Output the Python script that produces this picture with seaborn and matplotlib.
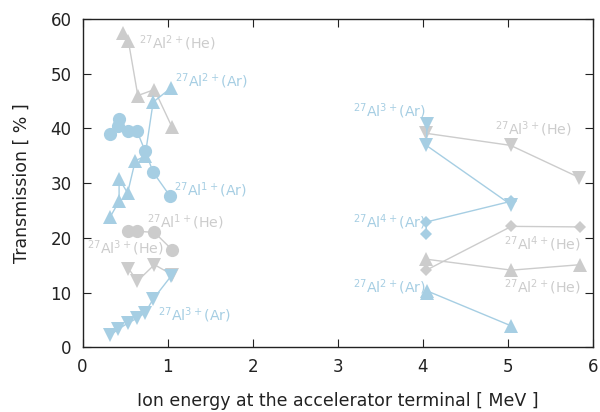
import matplotlib
matplotlib.use("Agg")
import matplotlib.pyplot as plt
import seaborn as sns

# --- data ---
# Argon stripper, low energy
ar1_x = [0.325, 0.43, 0.42, 0.53, 0.64, 0.735, 0.83, 1.03]
ar1_y = [38.9, 41.8, 40.5, 39.5, 39.5, 35.9, 32.0, 27.6]
ar2_x = [0.325, 0.43, 0.43, 0.53, 0.62, 0.735, 0.83, 1.04]
ar2_y = [23.8, 26.7, 30.8, 28.2, 34.1, 34.9, 44.8, 47.4]
ar3_x = [0.325, 0.42, 0.53, 0.64, 0.735, 0.83, 1.04]
ar3_y = [2.2, 3.3, 4.4, 5.3, 6.3, 8.8, 13.0]

# Helium stripper, low energy
he1_x = [0.54, 0.645, 0.845, 1.055]
he1_y = [21.2, 21.2, 21.0, 17.8]
he2_x = [0.48, 0.54, 0.65, 0.845, 1.05]
he2_y = [57.4, 55.9, 46.0, 47.1, 40.3]
he3_x = [0.54, 0.645, 0.845, 1.05]
he3_y = [14.4, 12.1, 15.1, 13.3]

# high energy
ar3h_x = [4.05, 4.04, 5.04]
ar3h_y = [40.8, 36.9, 26.0]
ar4h_x = [4.04, 4.04, 5.04]
ar4h_y = [20.7, 22.9, 26.7]
ar2h_x = [4.05, 4.05, 5.04]
ar2h_y = [10.0, 10.3, 3.9]
he3h_x = [4.04, 5.03, 5.84]
he3h_y = [39.1, 36.9, 31.0]
he4h_x = [4.04, 5.04, 5.85]
he4h_y = [14.1, 22.1, 22.0]
he2h_x = [4.04, 5.04, 5.85]
he2h_y = [16.1, 14.1, 15.1]

BLUE = "#a6cee3"
GRAY = "#cccccc"
INK = "#222222"

sns.set_style("ticks")
plt.rcParams["font.family"] = ["DejaVu Sans"]
plt.rcParams["mathtext.fontset"] = "dejavusans"

fig = plt.figure(figsize=(6.0, 4.12), dpi=100)
ax = fig.add_axes([0.1375, 0.157, 0.851, 0.797])

series = [
    (he2_x, he2_y, GRAY, "^", 9.5),
    (he1_x, he1_y, GRAY, "o", 9.5),
    (he3_x, he3_y, GRAY, "v", 9.5),
    (he3h_x, he3h_y, GRAY, "v", 9.5),
    (he4h_x, he4h_y, GRAY, "D", 6.5),
    (he2h_x, he2h_y, GRAY, "^", 9.5),
    (ar1_x, ar1_y, BLUE, "o", 9.5),
    (ar2_x, ar2_y, BLUE, "^", 9.5),
    (ar3_x, ar3_y, BLUE, "v", 9.5),
    (ar3h_x, ar3h_y, BLUE, "v", 9.5),
    (ar4h_x, ar4h_y, BLUE, "D", 6.5),
    (ar2h_x, ar2h_y, BLUE, "^", 9.5),
]
for xs, ys, col, mk, ms in series:
    sns.lineplot(x=xs, y=ys, ax=ax, color=col, marker=mk, markersize=ms,
                 markeredgewidth=0, linewidth=1.0, sort=False,
                 estimator=None, legend=False)

labels = [
    (0.66, 55.5, r"$^{27}$Al$^{2+}$(He)", GRAY),
    (1.09, 48.7, r"$^{27}$Al$^{2+}$(Ar)", BLUE),
    (1.08, 28.8, r"$^{27}$Al$^{1+}$(Ar)", BLUE),
    (0.755, 22.8, r"$^{27}$Al$^{1+}$(He)", GRAY),
    (0.05, 18.1, r"$^{27}$Al$^{3+}$(He)", GRAY),
    (0.885, 5.9, r"$^{27}$Al$^{3+}$(Ar)", BLUE),
    (3.18, 43.1, r"$^{27}$Al$^{3+}$(Ar)", BLUE),
    (4.85, 39.8, r"$^{27}$Al$^{3+}$(He)", GRAY),
    (3.18, 22.9, r"$^{27}$Al$^{4+}$(Ar)", BLUE),
    (4.95, 18.8, r"$^{27}$Al$^{4+}$(He)", GRAY),
    (3.18, 10.9, r"$^{27}$Al$^{2+}$(Ar)", BLUE),
    (4.95, 10.9, r"$^{27}$Al$^{2+}$(He)", GRAY),
]
for lx, ly, txt, col in labels:
    ax.text(lx, ly, txt, color=col, fontsize=10.2, ha="left", va="center")

ax.set_xlim(0, 6)
ax.set_ylim(0, 60)
ax.set_xticks(range(0, 7))
ax.set_yticks(range(0, 61, 10))
ax.tick_params(direction="in", top=True, right=True, length=5.5, width=0.8,
               labelsize=12, colors=INK, pad=8)
for s in ax.spines.values():
    s.set_linewidth(1.0)
    s.set_color(INK)
ax.set_xlabel("Ion energy at the accelerator terminal [ MeV ]", fontsize=12.5,
              color=INK, labelpad=11)
ax.set_ylabel("Transmission [ % ]", fontsize=12.5, color=INK, labelpad=14)

fig.savefig("out.png", dpi=100)
